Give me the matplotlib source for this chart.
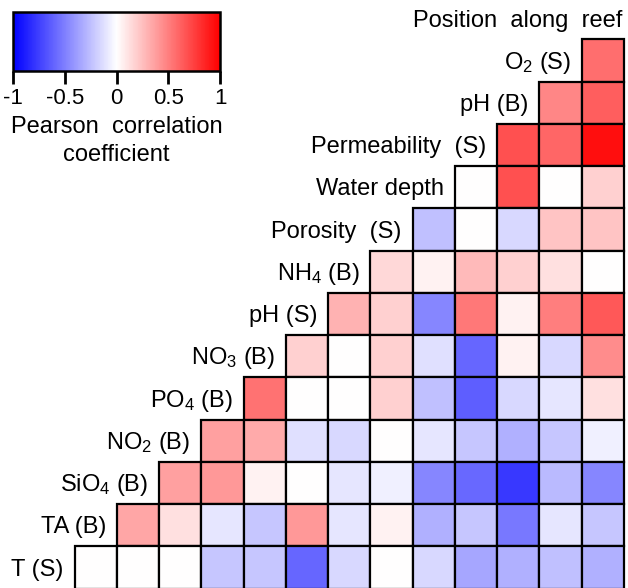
import numpy as np
import matplotlib
matplotlib.use("Agg")
import matplotlib.pyplot as plt
from matplotlib.patches import Rectangle
from matplotlib.colors import Normalize
from matplotlib.cm import ScalarMappable

plt.rcParams['font.family'] = ['Liberation Sans', 'DejaVu Sans']
plt.rcParams['mathtext.default'] = 'regular'
plt.rcParams['axes.unicode_minus'] = False

# variables, top row first; the last column is "Position along reef"
row_labels = ['O$_2$ (S)', 'pH (B)', 'Permeability  (S)', 'Water depth', 'Porosity  (S)',
              'NH$_4$ (B)', 'pH (S)', 'NO$_3$ (B)', 'PO$_4$ (B)', 'NO$_2$ (B)',
              'SiO$_4$ (B)', 'TA (B)', 'T (S)']
top_label = 'Position  along  reef'

# pearson r per row, from the diagonal cell out to the right-hand column
r_o2s = [0.57]
r_phb = [0.47, 0.63]
r_perm = [0.68, 0.6, 0.94]
r_depth = [0, 0.68, 0, 0.18]
r_poro = [-0.25, 0, -0.15, 0.23, 0.23]
r_nh4 = [0.15, 0.05, 0.27, 0.18, 0.12, 0]
r_phs = [0.3, 0.18, -0.47, 0.53, 0.05, 0.5, 0.65]
r_no3 = [0.18, 0, 0.18, -0.12, -0.6, 0.05, -0.15, 0.45]
r_po4 = [0.55, 0, 0, 0.18, -0.25, -0.63, -0.15, -0.1, 0.12]
r_no2 = [0.37, 0.33, -0.12, -0.15, 0, -0.1, -0.22, -0.31, -0.22, -0.06]
r_sio4 = [0.37, 0.4, 0.05, 0, -0.1, -0.06, -0.47, -0.59, -0.78, -0.27, -0.47]
r_ta = [0.35, 0.12, -0.1, -0.22, 0.4, -0.1, 0.05, -0.31, -0.22, -0.53, -0.1, -0.22]
r_ts = [0, 0, 0, -0.22, -0.22, -0.6, -0.15, 0, -0.15, -0.35, -0.31, -0.25, -0.31]

rows = [r_o2s, r_phb, r_perm, r_depth, r_poro, r_nh4, r_phs, r_no3, r_po4,
        r_no2, r_sio4, r_ta, r_ts]
n = len(rows)

cmap = plt.get_cmap('bwr')
norm = Normalize(vmin=-1, vmax=1)

fig = plt.figure(figsize=(6.28, 5.88), dpi=100)
W, H = 628, 588
x0, y0, cell = 74.7, 39.3, 42.25
ax = fig.add_axes([x0 / W, 1 - (y0 + n * cell) / H, n * cell / W, n * cell / H])
ax.set_xlim(0, n)
ax.set_ylim(n, 0)
ax.axis('off')

for i, vals in enumerate(rows):
    first = n - len(vals)
    for k, v in enumerate(vals):
        ax.add_patch(Rectangle((first + k, i), 1, 1, facecolor=cmap(norm(v)),
                               edgecolor='black', linewidth=1.6, clip_on=False))
    ax.text(first - 0.26, i + 0.55, row_labels[i], ha='right', va='center',
            fontsize=17, clip_on=False)
ax.text(n - 0.03, -0.43, top_label, ha='right', va='center', fontsize=17,
        clip_on=False)

cax = fig.add_axes([13 / W, 1 - 71 / H, 207 / W, 59 / H])
cb = fig.colorbar(ScalarMappable(norm=norm, cmap=cmap), cax=cax,
                  orientation='horizontal', ticks=[-1, -0.5, 0, 0.5, 1])
cb.ax.set_xticklabels(['-1', '-0.5', '0', '0.5', '1'])
cb.ax.tick_params(length=9, width=2, labelsize=16, pad=3)
cb.outline.set_linewidth(1.8)
cb.set_label('Pearson  correlation\ncoefficient', fontsize=17, labelpad=5,
             linespacing=1.35)

fig.savefig('out.png', dpi=100)
